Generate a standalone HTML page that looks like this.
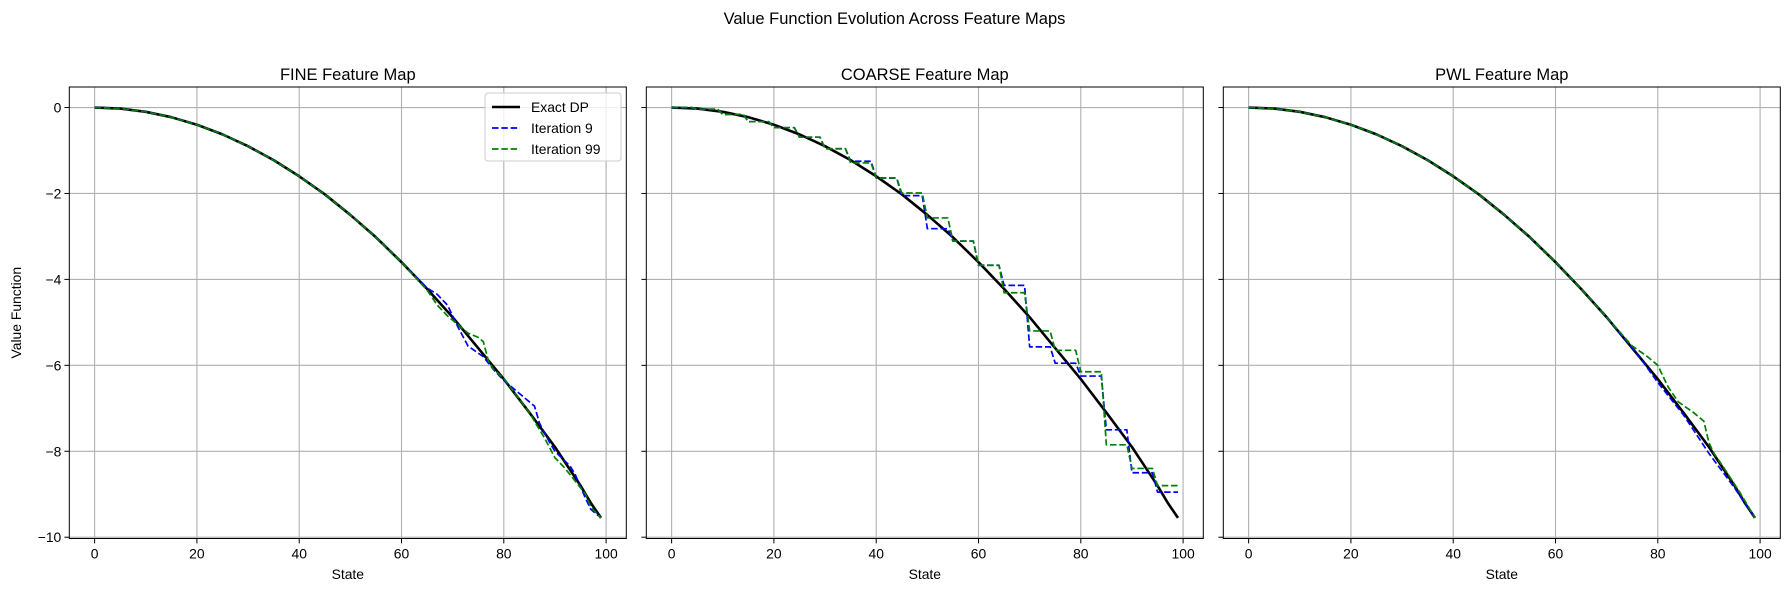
<!DOCTYPE html>
<html><head><meta charset="utf-8">
<style>
html,body{margin:0;padding:0;background:#fff;}
svg{display:block;font-family:"Liberation Sans","DejaVu Sans",sans-serif;}
</style></head>
<body>
<svg id="fig" width="1789" height="592" viewBox="0 0 1789 592" xmlns="http://www.w3.org/2000/svg">
<rect width="1789" height="592" fill="#fff"/>
<text x="894.5" y="24" text-anchor="middle" font-size="16.5" fill="#000">Value Function Evolution Across Feature Maps</text>
</svg>
<script>
const xTicks = [0, 20, 40, 60, 80, 100];
const yTicks = [0, -2, -4, -6, -8, -10];
const panelTitles = ["FINE Feature Map", "COARSE Feature Map", "PWL Feature Map"];
const seriesNames = ["Exact DP", "Iteration 9", "Iteration 99"];

const exactStates = [0,5,10,15,20,25,30,35,40,45,50,55,60,65,70,75,80,85,90,95,97,99];
const exactValues = [0,-0.025,-0.1,-0.225,-0.4,-0.625,-0.9,-1.225,-1.6,-2.02,-2.5,-3.02,-3.6,-4.22,-4.88,-5.6,-6.32,-7.1,-7.9,-8.8,-9.2,-9.55];

const fineIt9States = [0,5,10,15,20,25,30,35,40,45,50,55,60,65,67,69,71,73,76,78,80,83,86,87,89,90,93,94,96,97,99];
const fineIt9Values = [0,-0.025,-0.1,-0.225,-0.4,-0.625,-0.9,-1.225,-1.6,-2.02,-2.5,-3.02,-3.6,-4.2,-4.35,-4.6,-5.1,-5.55,-5.8,-6.1,-6.35,-6.65,-6.95,-7.35,-7.8,-8.0,-8.35,-8.55,-9.1,-9.35,-9.55];
const fineIt99States = [0,5,10,15,20,25,30,35,40,45,50,55,60,65,67,69,71,73,75,76,77,78,80,85,88,90,92,95,96,97,99];
const fineIt99Values = [0,-0.025,-0.1,-0.225,-0.4,-0.625,-0.9,-1.225,-1.6,-2.02,-2.5,-3.02,-3.6,-4.25,-4.6,-4.85,-5.05,-5.25,-5.35,-5.45,-5.9,-6.1,-6.3,-7.1,-7.7,-8.15,-8.4,-8.85,-9.0,-9.3,-9.55];

const coarseBinStarts = [0,5,10,15,20,25,30,35,40,45,50,55,60,65,70,75,80,85,90,95];
const coarseIt9Values = [0,-0.04,-0.16,-0.33,-0.47,-0.69,-0.96,-1.25,-1.64,-2.05,-2.82,-3.11,-3.67,-4.14,-5.57,-5.95,-6.25,-7.5,-8.5,-8.95];
const coarseIt99Values = [0,-0.04,-0.16,-0.33,-0.47,-0.69,-0.96,-1.29,-1.64,-1.99,-2.57,-3.11,-3.67,-4.31,-5.2,-5.65,-6.15,-7.85,-8.4,-8.8];

const pwlIt9States = [0,5,10,15,20,25,30,35,40,45,50,55,60,65,70,75,77,80,85,90,95,97,99];
const pwlIt9Values = [0,-0.025,-0.1,-0.225,-0.4,-0.625,-0.9,-1.225,-1.6,-2.02,-2.5,-3.02,-3.6,-4.22,-4.88,-5.6,-5.9,-6.4,-7.15,-8.05,-8.85,-9.2,-9.55];
const pwlIt99States = [0,5,10,15,20,25,30,35,40,45,50,55,60,65,70,75,78,80,82,84,87,89,90,91,93,96,99];
const pwlIt99Values = [0,-0.025,-0.1,-0.225,-0.4,-0.625,-0.9,-1.225,-1.6,-2.02,-2.5,-3.02,-3.6,-4.22,-4.88,-5.55,-5.8,-6.0,-6.5,-6.85,-7.1,-7.3,-7.8,-8.05,-8.4,-8.95,-9.55];

const NS = "http://www.w3.org/2000/svg";
const svg = document.getElementById("fig");
const panelLefts = [69.3, 646.3, 1223.3];
const PW = 557, PT = 87, PB = 538.5;
const xMin = -4.95, xMax = 103.95, yMin = -10.03, yMax = 0.4775;

function mk(tag, attrs, parent) {
  const e = document.createElementNS(NS, tag);
  for (const k in attrs) e.setAttribute(k, attrs[k]);
  (parent || svg).appendChild(e);
  return e;
}
function xScale(p, v) { return panelLefts[p] + (v - xMin) / (xMax - xMin) * PW; }
function yScale(v) { return PT + (yMax - v) / (yMax - yMin) * (PB - PT); }

function expandCoarse(vals) {
  const s = [], v = [];
  coarseBinStarts.forEach((b, i) => {
    for (let k = 0; k < 5; k++) { s.push(b + k); v.push(vals[i]); }
  });
  return [s, v];
}

function drawLine(p, states, vals, color, width, dash, name) {
  const pts = states.map((s, i) => xScale(p, s).toFixed(2) + "," + yScale(vals[i]).toFixed(2)).join(" ");
  const pl = mk("polyline", {points: pts, fill: "none", stroke: color, "stroke-width": width, "stroke-linejoin": "round"});
  if (dash) pl.setAttribute("stroke-dasharray", dash);
  
  
}

const c9 = expandCoarse(coarseIt9Values);
const c99 = expandCoarse(coarseIt99Values);
const it9 = [[fineIt9States, fineIt9Values], c9, [pwlIt9States, pwlIt9Values]];
const it99 = [[fineIt99States, fineIt99Values], c99, [pwlIt99States, pwlIt99Values]];
const panelKeys = ["fine", "coarse", "pwl"];

for (let p = 0; p < 3; p++) {
  const g = mk("g", {});
  
  
  const L = panelLefts[p];
  xTicks.forEach(t => {
    const x = xScale(p, t);
    const ln = mk("line", {x1: x, x2: x, y1: PT, y2: PB, stroke: "#b0b0b0", "stroke-width": 1.1}, g);
    
    
    mk("line", {x1: x, x2: x, y1: PB, y2: PB + 4.9, stroke: "#000", "stroke-width": 1}, g);
    const tx = mk("text", {x: x, y: PB + 20, "text-anchor": "middle", "font-size": 13.9, fill: "#000"}, g);
    tx.textContent = String(t);
    
    
  });
  yTicks.forEach(t => {
    const y = yScale(t);
    const ln = mk("line", {x1: L, x2: L + PW, y1: y, y2: y, stroke: "#b0b0b0", "stroke-width": 1.1}, g);
    
    
    mk("line", {x1: L - 4.9, x2: L, y1: y, y2: y, stroke: "#000", "stroke-width": 1}, g);
    if (p === 0) {
      const tx = mk("text", {x: L - 8, y: y + 5, "text-anchor": "end", "font-size": 13.9, fill: "#000"}, g);
      tx.textContent = t === 0 ? "0" : "\u2212" + Math.abs(t);
      
      
    }
  });
  drawLine(p, exactStates, exactValues, "#000", 2.6, null, panelKeys[p] + "-exact-dp-line");
  drawLine(p, it9[p][0], it9[p][1], "#0000ff", 1.7, "6.5,2.8", panelKeys[p] + "-iteration-9-line");
  drawLine(p, it99[p][0], it99[p][1], "#008000", 1.7, "6.5,2.8", panelKeys[p] + "-iteration-99-line");
  const fr = mk("rect", {x: L, y: PT, width: PW, height: PB - PT, fill: "none", stroke: "#000", "stroke-width": 1}, g);
  
  
  const tt = mk("text", {x: L + PW / 2, y: 80, "text-anchor": "middle", "font-size": 16.5, fill: "#000"}, g);
  tt.textContent = panelTitles[p];
  
  
  const xl = mk("text", {x: L + PW / 2, y: 579, "text-anchor": "middle", "font-size": 13.9, fill: "#000"}, g);
  xl.textContent = "State";
  
  
}
const yl = mk("text", {x: 0, y: 0, "text-anchor": "middle", "font-size": 13.9, fill: "#000", transform: "translate(21,312.7) rotate(-90)"});
yl.textContent = "Value Function";



const lg = mk("g", {});


mk("rect", {x: 485, y: 93, width: 136, height: 68, rx: 3, fill: "#fff", "fill-opacity": 0.8, stroke: "#cccccc", "stroke-width": 1}, lg);
const legColors = ["#000", "#0000ff", "#008000"];
const legDash = [null, "6.5,2.8", "6.5,2.8"];
seriesNames.forEach((n, i) => {
  const y = 107 + i * 21;
  const ln = mk("line", {x1: 492, x2: 520, y1: y, y2: y, stroke: legColors[i], "stroke-width": i === 0 ? 2.6 : 1.7}, lg);
  if (legDash[i]) ln.setAttribute("stroke-dasharray", legDash[i]);
  
  
  const t = mk("text", {x: 531, y: y + 5, "font-size": 13.9, fill: "#000"}, lg);
  t.textContent = n;
  
  
});
</script>
</body></html>
